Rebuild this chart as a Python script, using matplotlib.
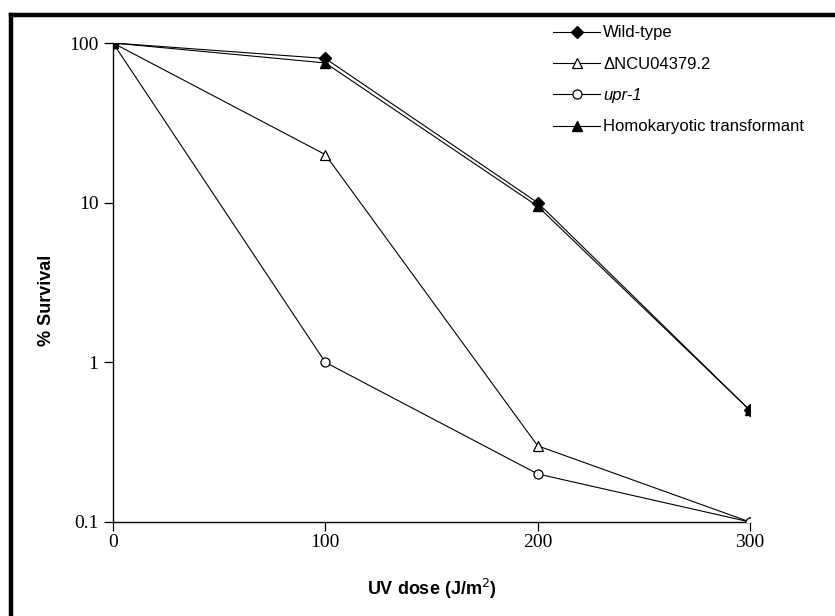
import matplotlib
matplotlib.use("Agg")
import matplotlib.pyplot as plt
from matplotlib.lines import Line2D

doses = [0, 100, 200, 300]
wild_type = [100, 80, 10, 0.5]
delta_ncu = [100, 20, 0.3, 0.1]
upr1 = [100, 1, 0.2, 0.1]
homokaryotic = [100, 75, 9.5, 0.5]

labels = ["Wild-type", "\u0394NCU04379.2", "upr-1", "Homokaryotic transformant"]
y_ticks = [0.1, 1, 10, 100]
y_ticklabels = ["0.1", "1", "10", "100"]
x_ticks = [0, 100, 200, 300]
x_ticklabels = ["0", "100", "200", "300"]

fig = plt.figure(figsize=(8.35, 6.16), dpi=100)
ax = fig.add_axes([113/835, 94/616, 637/835, 479/616])

lw = 0.8
ax.plot(doses, wild_type, color="black", lw=lw, marker="D", markersize=6,
        markerfacecolor="black", markeredgecolor="black", label=labels[0], zorder=3)
ax.plot(doses, delta_ncu, color="black", lw=lw, marker="^", markersize=7,
        markerfacecolor="white", markeredgecolor="black", markeredgewidth=0.9, label=labels[1], zorder=3)
ax.plot(doses, upr1, color="black", lw=lw, marker="o", markersize=6.5,
        markerfacecolor="white", markeredgecolor="black", markeredgewidth=0.9, label=labels[2], zorder=3)
ax.plot(doses, homokaryotic, color="black", lw=lw, marker="^", markersize=7,
        markerfacecolor="black", markeredgecolor="black", label=labels[3], zorder=3)

ax.set_yscale("log")
ax.set_ylim(0.1, 100)
ax.set_xlim(0, 300)
ax.set_yticks(y_ticks)
ax.set_yticklabels(y_ticklabels, fontfamily="Liberation Serif", fontsize=14)
ax.set_xticks(x_ticks)
ax.set_xticklabels(x_ticklabels, fontfamily="Liberation Serif", fontsize=14)
ax.minorticks_off()
ax.tick_params(axis="y", direction="out", length=6.5, width=0.9, color="black", pad=4)
ax.tick_params(axis="x", direction="out", length=6.5, width=0.9, color="black", pad=2)

for s in ["top", "right"]:
    ax.spines[s].set_visible(False)
for s in ["left", "bottom"]:
    ax.spines[s].set_linewidth(1.0)
    ax.spines[s].set_color("black")

ax.set_xlabel("UV dose (J/m$^{2}$)", fontfamily="Liberation Sans", fontweight="bold", fontsize=13, labelpad=18.5)
ax.set_ylabel("% Survival", fontfamily="Liberation Sans", fontweight="bold", fontsize=13)
ax.yaxis.set_label_coords((55 - 113) / 637, (522 - 300) / 479)

handles, lbls = ax.get_legend_handles_labels()
leg = ax.legend(handles, lbls, loc="upper left", bbox_to_anchor=(545/835, 1 - 17/616),
                bbox_transform=fig.transFigure, frameon=False, handlelength=2.8,
                handletextpad=0.2, labelspacing=0.98, borderpad=0,
                prop={"family": "Liberation Sans", "size": 12})
for t in leg.get_texts():
    if t.get_text() == "upr-1":
        t.set_fontstyle("italic")

# black frame border (top and left)
fig.add_artist(Line2D([11.2/835, 1.0], [1 - 14.5/616, 1 - 14.5/616], transform=fig.transFigure,
                      color="black", lw=3.2, solid_capstyle="projecting"))
fig.add_artist(Line2D([11.2/835, 11.2/835], [0.0, 1 - 14.5/616], transform=fig.transFigure,
                      color="black", lw=3.2, solid_capstyle="projecting"))

fig.savefig("out.png", dpi=100)
